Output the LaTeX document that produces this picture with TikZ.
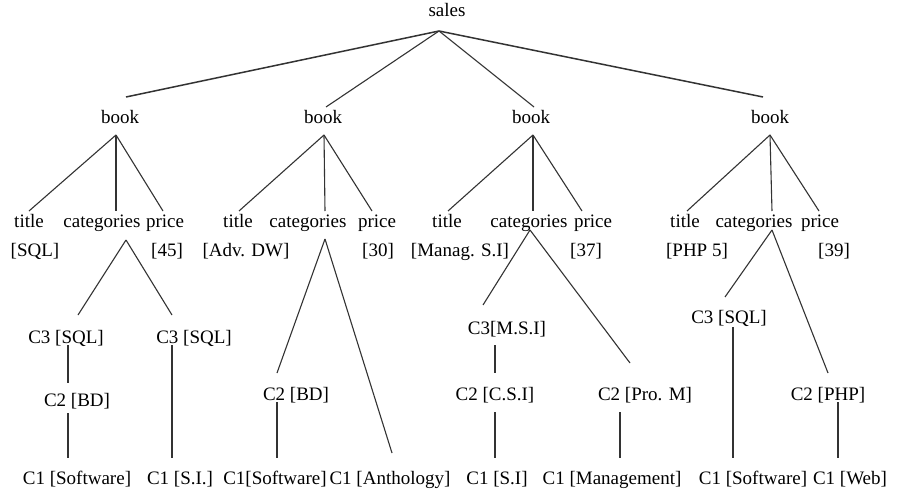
\documentclass[tikz,border=0pt]{standalone}
\usepackage{fontspec}
\setmainfont{Liberation Serif}
\begin{document}
\begin{tikzpicture}[x=1pt,y=-1pt,
  lbl/.style={anchor=base,inner sep=0pt,font=\fontsize{19}{22}\selectfont},
  edge/.style={line width=1.1pt,draw=black!80}]
\useasboundingbox (0,0) rectangle (897,495);
\fill[white] (0,0) rectangle (897,495);
% ---- text nodes ----
\node[lbl] (sales) at (447,17) {sales};
\node[lbl] (b1) at (120,123) {book};
\node[lbl] (b2) at (323,123) {book};
\node[lbl] (b3) at (531,123) {book};
\node[lbl] (b4) at (770,123) {book};
% group 1
\node[lbl] (t1) at (29,227) {title};
\node[lbl] (c1) at (102,227) {categories};
\node[lbl] (p1) at (165,227) {price};
\node[lbl] (tv1) at (35,256) {[SQL]};
\node[lbl] (pv1) at (167,256) {[45]};
\node[lbl] (g1c3a) at (66,343) {C3 [SQL]};
\node[lbl] (g1c3b) at (194,343) {C3 [SQL]};
\node[lbl] (g1c2) at (77,406) {C2 [BD]};
\node[lbl] (g1c1a) at (77,484) {C1 [Software]};
\node[lbl] (g1c1b) at (180,484) {C1 [S.I.]};
% group 2
\node[lbl] (t2) at (238,227) {title};
\node[lbl] (c2) at (308,227) {categories};
\node[lbl] (p2) at (377,227) {price};
\node[lbl] (tv2) at (246,256) {[Adv. DW]};
\node[lbl] (pv2) at (378,256) {[30]};
\node[lbl] (g2c2) at (296,400) {C2 [BD]};
\node[lbl] (g2c1a) at (275,484) {C1[Software]};
\node[lbl] (g2c1b) at (390,484) {C1 [Anthology]};
% group 3
\node[lbl] (t3) at (447,227) {title};
\node[lbl] (c3) at (529,227) {categories};
\node[lbl] (p3) at (593,227) {price};
\node[lbl] (tv3) at (460,256) {[Manag. S.I]};
\node[lbl] (pv3) at (586,256) {[37]};
\node[lbl] (g3c3) at (507,334) {C3[M.S.I]};
\node[lbl] (g3c2a) at (495,400) {C2 [C.S.I]};
\node[lbl] (g3c2b) at (645,400) {C2 [Pro. M]};
\node[lbl] (g3c1a) at (497,484) {C1 [S.I]};
\node[lbl] (g3c1b) at (612,484) {C1 [Management]};
% group 4
\node[lbl] (t4) at (685,227) {title};
\node[lbl] (c4) at (754,227) {categories};
\node[lbl] (p4) at (820,227) {price};
\node[lbl] (tv4) at (697,256) {[PHP 5]};
\node[lbl] (pv4) at (834,256) {[39]};
\node[lbl] (g4c3) at (729,323) {C3 [SQL]};
\node[lbl] (g4c2) at (828,400) {C2 [PHP]};
\node[lbl] (g4c1a) at (753,484) {C1 [Software]};
\node[lbl] (g4c1b) at (850,484) {C1 [Web]};
% ---- connector end points ----
\coordinate (sA) at (439,31);
\coordinate (b1in) at (126,97);
\coordinate (b2in) at (326,107);
\coordinate (b3in) at (534,107);
\coordinate (b4in) at (763,97);
\coordinate (b1a) at (116,135);
\coordinate (b2a) at (324,135);
\coordinate (b3a) at (533,135);
\coordinate (b4a) at (770,135);
\coordinate (t1in) at (29,211);  \coordinate (c1in) at (116,211); \coordinate (p1in) at (163,211);
\coordinate (t2in) at (239,211); \coordinate (c2in) at (325,211); \coordinate (p2in) at (372,211);
\coordinate (t3in) at (448,211); \coordinate (c3in) at (533,211); \coordinate (p3in) at (582,211);
\coordinate (t4in) at (687,211); \coordinate (c4in) at (772,211); \coordinate (p4in) at (819,211);
\coordinate (c1a) at (126,240);
\coordinate (c2a) at (325,239);
\coordinate (c3a) at (530,230);
\coordinate (c4a) at (772,230);
% group 1 ends
\coordinate (g1c3a-in) at (78,315);   \coordinate (g1c3b-in) at (172,315);
\coordinate (g1c3a-out) at (68,345);  \coordinate (g1c2-in) at (68,383);
\coordinate (g1c2-out) at (68,413);   \coordinate (g1c1a-in) at (68,458);
\coordinate (g1c3b-out) at (172,345); \coordinate (g1c1b-in) at (172,458);
% group 2 ends
\coordinate (g2c2-in) at (277,373);   \coordinate (g2c1b-in) at (392,453);
\coordinate (g2c2-out) at (277,402);  \coordinate (g2c1a-in) at (277,458);
% group 3 ends
\coordinate (g3c3-in) at (483,305);   \coordinate (g3c2b-in) at (630,363);
\coordinate (g3c3-out) at (495,345);  \coordinate (g3c2a-in) at (495,373);
\coordinate (g3c2a-out) at (495,412); \coordinate (g3c1a-in) at (495,458);
\coordinate (g3c2b-out) at (620,412); \coordinate (g3c1b-in) at (620,458);
% group 4 ends
\coordinate (g4c3-in) at (725,297);   \coordinate (g4c2-in) at (828,373);
\coordinate (g4c3-out) at (733,327);  \coordinate (g4c1a-in) at (733,458);
\coordinate (g4c2-out) at (838,402);  \coordinate (g4c1b-in) at (838,458);
% ---- connectors ----
\draw[edge,line width=1.5pt] (sA) -- (b1in);
\draw[edge] (sA) -- (b2in);
\draw[edge] (sA) -- (b3in);
\draw[edge,line width=1.5pt] (sA) -- (b4in);
\foreach \g in {1,2,3,4}{
  \draw[edge] (b\g a) -- (t\g in);
  \draw[edge] (b\g a) -- (c\g in);
  \draw[edge] (b\g a) -- (p\g in);
}
\draw[edge] (c1a) -- (g1c3a-in);
\draw[edge] (c1a) -- (g1c3b-in);
\draw[edge] (g1c3a-out) -- (g1c2-in);
\draw[edge] (g1c2-out) -- (g1c1a-in);
\draw[edge] (g1c3b-out) -- (g1c1b-in);
\draw[edge] (c2a) -- (g2c2-in);
\draw[edge] (c2a) -- (g2c1b-in);
\draw[edge] (g2c2-out) -- (g2c1a-in);
\draw[edge] (c3a) -- (g3c3-in);
\draw[edge] (c3a) -- (g3c2b-in);
\draw[edge] (g3c3-out) -- (g3c2a-in);
\draw[edge] (g3c2a-out) -- (g3c1a-in);
\draw[edge] (g3c2b-out) -- (g3c1b-in);
\draw[edge] (c4a) -- (g4c3-in);
\draw[edge] (c4a) -- (g4c2-in);
\draw[edge] (g4c3-out) -- (g4c1a-in);
\draw[edge] (g4c2-out) -- (g4c1b-in);
\end{tikzpicture}
\end{document}
